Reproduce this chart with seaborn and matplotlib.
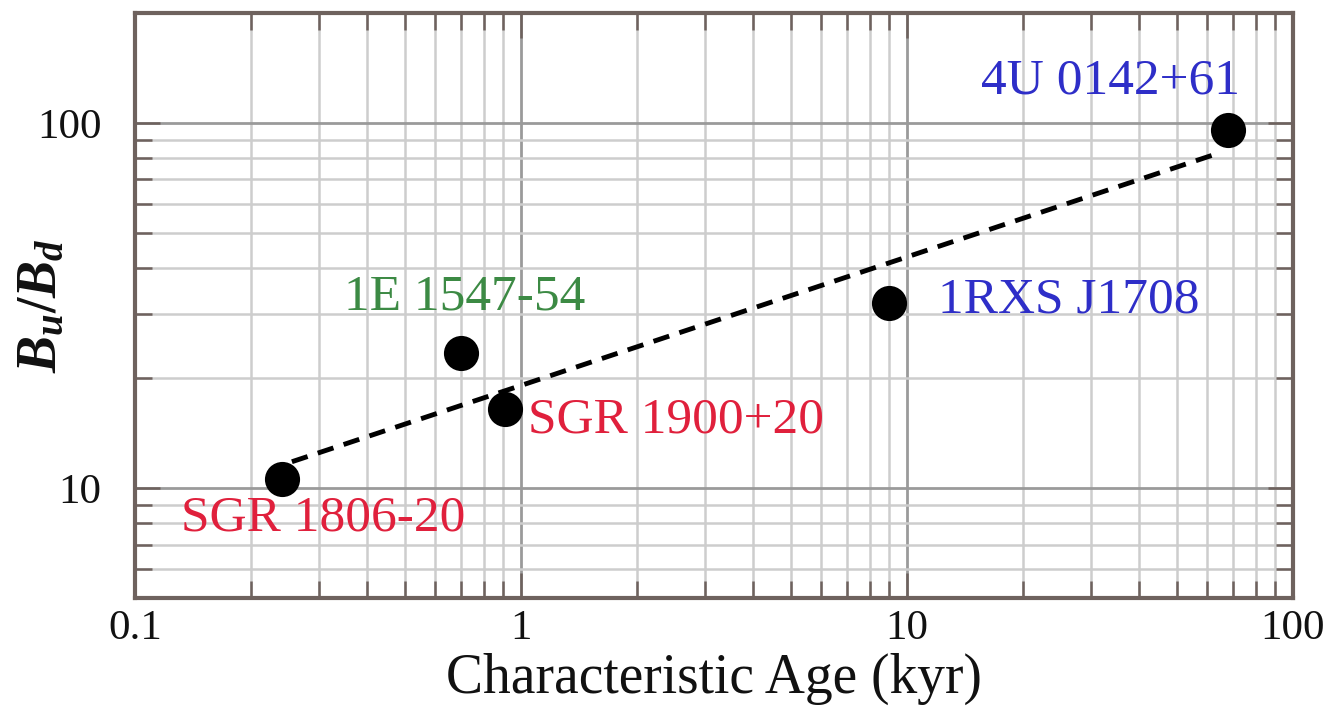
import numpy as np
import pandas as pd
import matplotlib
matplotlib.use("Agg")
import matplotlib.pyplot as plt
import seaborn as sns
from matplotlib.ticker import LogLocator, FuncFormatter, NullFormatter

# ---- data ----
names = ["SGR 1806-20", "1E 1547-54", "SGR 1900+20", "1RXS J1708", "4U 0142+61"]
age_kyr = [0.24, 0.70, 0.91, 9.0, 68.0]
b_ratio = [10.6, 23.5, 16.5, 32.2, 95.7]
label_colors = ["#e0203c", "#3c8a44", "#e0203c", "#2e2ec8", "#2e2ec8"]
# power-law fit  B_u/B_d = norm * age^slope
fit_norm = 19.1
fit_slope = 0.352
fit_range = [0.255, 65.0]

x_ticks = [0.1, 1, 10, 100]
y_ticks = [10, 100]

# label offsets in pixels (left edge / vertical centre relative to marker)
label_offsets = [(-101, -39), (-117, 55), (23, -12), (49, 2), (-247, 49)]

sns.set_theme(style="white")
plt.rcParams["font.family"] = ["Liberation Serif", "DejaVu Serif"]
plt.rcParams["mathtext.fontset"] = "custom"
plt.rcParams["mathtext.it"] = "Liberation Serif:italic:bold"
plt.rcParams["mathtext.rm"] = "Liberation Serif:bold"

df = pd.DataFrame({"age": age_kyr, "ratio": b_ratio, "name": names})
fit_x = np.geomspace(fit_range[0], fit_range[1], 50)
fit_df = pd.DataFrame({"age": fit_x, "ratio": fit_norm * fit_x ** fit_slope})

fig = plt.figure(figsize=(13.34, 7.23), dpi=100)
ax = fig.add_axes([135 / 1334, 1 - 598 / 723, (1293 - 135) / 1334, (598 - 13) / 723])
ax.set_xscale("log")
ax.set_yscale("log")

sns.lineplot(data=fit_df, x="age", y="ratio", ax=ax, color="black", lw=3.5,
             dashes=False, zorder=3)
ax.lines[-1].set_dashes([3.4, 2.2])
sns.scatterplot(data=df, x="age", y="ratio", ax=ax, s=640, color="black",
                edgecolor="black", linewidth=0, zorder=4, legend=False)

for name, xv, yv, col, off in zip(names, age_kyr, b_ratio, label_colors, label_offsets):
    ax.annotate(name, (xv, yv), xytext=off, textcoords="offset pixels",
                ha="left", va="center", fontsize=37, color=col, zorder=5)

ax.xaxis.set_major_locator(LogLocator(base=10, subs=(1.0,)))
ax.yaxis.set_major_locator(LogLocator(base=10, subs=(1.0,)))
ax.xaxis.set_minor_locator(LogLocator(base=10, subs=np.arange(2, 10)))
ax.yaxis.set_minor_locator(LogLocator(base=10, subs=np.arange(2, 10)))
ax.set_xticks(x_ticks)
ax.set_yticks(y_ticks)
fmt = FuncFormatter(lambda v, p: f"{v:g}")
ax.xaxis.set_major_formatter(fmt)
ax.yaxis.set_major_formatter(fmt)
ax.xaxis.set_minor_formatter(NullFormatter())
ax.yaxis.set_minor_formatter(NullFormatter())
ax.set_xlim(0.1, 100)
ax.set_ylim(5, 200)

ax.grid(which="major", color="#9a9a9a", lw=2.0)
ax.grid(which="minor", color="#cdcdcd", lw=1.8)
ax.set_axisbelow(True)

frame_col = "#6e625e"
for sp in ax.spines.values():
    sp.set_color(frame_col)
    sp.set_linewidth(3)
ax.tick_params(which="both", direction="in", top=True, right=True, bottom=True, left=True,
               color=frame_col, width=1.8)
ax.tick_params(which="major", length=18)
ax.tick_params(which="minor", length=12)
ax.tick_params(axis="x", which="major", labelsize=31, pad=8, labelcolor="#111111")
ax.tick_params(axis="y", which="major", labelsize=31, pad=24, labelcolor="#111111")

ax.set_xlabel("Characteristic Age (kyr)", fontsize=40, color="#111111", labelpad=4)
ax.set_ylabel(r"$B_u/B_d$", fontsize=40, color="#111111")
ax.yaxis.label.set_verticalalignment("center")
ax.yaxis.set_label_coords((42 - 135) / 1158, 0.5)

fig.savefig("out.png", dpi=100, facecolor="white")
